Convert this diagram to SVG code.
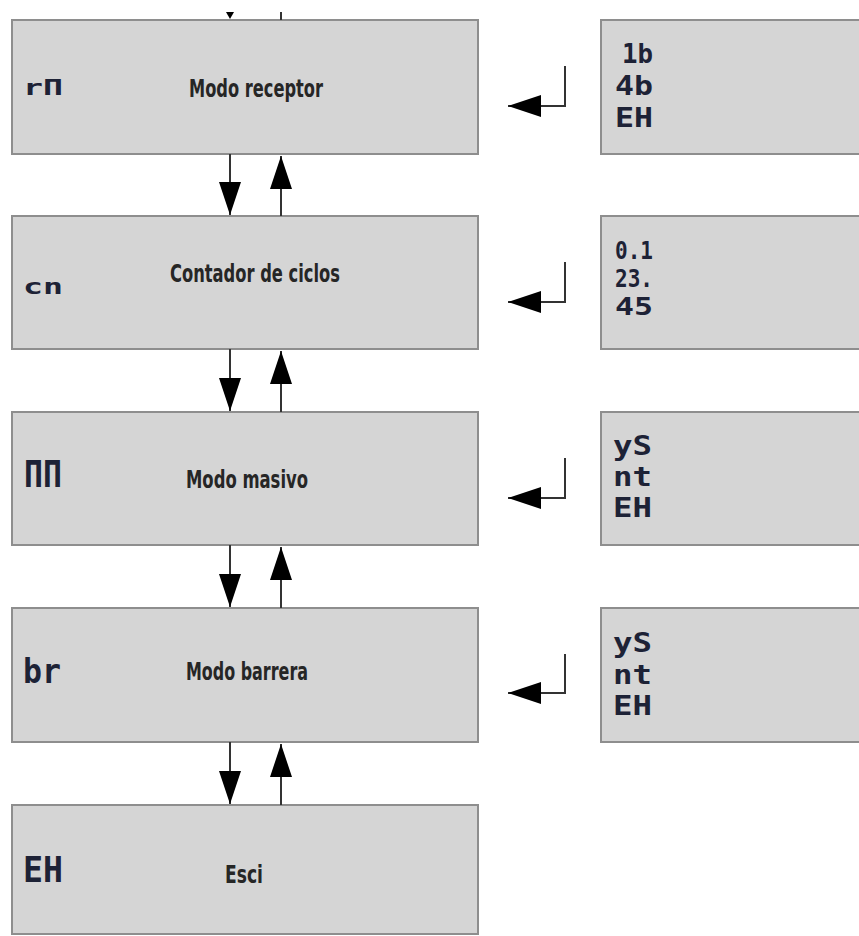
<svg xmlns="http://www.w3.org/2000/svg" width="859" height="936" viewBox="0 0 859 936">
<style>
.box{fill:#d5d5d5;stroke:#8e8e8e;stroke-width:2}
.lbl{font-family:"Liberation Sans Narrow","DejaVu Sans Condensed","Roboto",sans-serif;font-stretch:condensed;font-weight:bold;font-size:25px;fill:#262626;text-anchor:middle}
.seg{font-family:"DejaVu Sans Mono","Liberation Mono",monospace;font-weight:bold;fill:#1d2236}
.ln{stroke:#333;stroke-width:2;fill:none}
</style>
<defs>
<marker id="ah" markerUnits="userSpaceOnUse" markerWidth="33" markerHeight="22" refX="33" refY="11" orient="auto">
<path d="M0,0 L33,11 L0,22 z" fill="#000"/>
</marker>
</defs>
<rect width="859" height="936" fill="#fff"/>

<g id="node-rm">
<rect class="box" x="12" y="20" width="466" height="134"/>
<text class="seg" x="23" y="95" font-size="22" textLength="40" lengthAdjust="spacingAndGlyphs">rП</text>
<text class="lbl" x="256" y="97" textLength="134" lengthAdjust="spacingAndGlyphs">Modo receptor</text>
</g>
<g id="node-rm-opts">
<rect class="box" x="601" y="20" width="270" height="134"/>
<text class="seg" x="622" y="63" font-size="27" textLength="31" lengthAdjust="spacingAndGlyphs">1b</text>
<text class="seg" x="615" y="95" font-size="27" textLength="38" lengthAdjust="spacingAndGlyphs">4b</text>
<text class="seg" x="615" y="127" font-size="27" textLength="38" lengthAdjust="spacingAndGlyphs">EH</text>
</g>

<g id="node-cn">
<rect class="box" x="12" y="216" width="466" height="133"/>
<text class="seg" x="23" y="294" font-size="22" textLength="40" lengthAdjust="spacingAndGlyphs">cn</text>
<text class="lbl" x="255" y="282" textLength="170" lengthAdjust="spacingAndGlyphs">Contador de ciclos</text>
</g>
<g id="node-cn-opts">
<rect class="box" x="601" y="216" width="270" height="133"/>
<text class="seg" x="615" y="259" font-size="24" textLength="38" lengthAdjust="spacingAndGlyphs">0.1</text>
<text class="seg" x="615" y="287" font-size="24" textLength="38" lengthAdjust="spacingAndGlyphs">23.</text>
<text class="seg" x="615" y="315" font-size="24" textLength="38" lengthAdjust="spacingAndGlyphs">45</text>
</g>

<g id="node-mm">
<rect class="box" x="12" y="412" width="466" height="133"/>
<text class="seg" x="24" y="487" font-size="37" textLength="38" lengthAdjust="spacingAndGlyphs">ПП</text>
<text class="lbl" x="247" y="488" textLength="122" lengthAdjust="spacingAndGlyphs">Modo masivo</text>
</g>
<g id="node-mm-opts">
<rect class="box" x="601" y="412" width="270" height="133"/>
<text class="seg" x="613" y="455" font-size="26" textLength="39" lengthAdjust="spacingAndGlyphs">yS</text>
<text class="seg" x="613" y="486" font-size="26" textLength="39" lengthAdjust="spacingAndGlyphs">nt</text>
<text class="seg" x="613" y="517" font-size="26" textLength="39" lengthAdjust="spacingAndGlyphs">EH</text>
</g>

<g id="node-br">
<rect class="box" x="12" y="608" width="466" height="134"/>
<text class="seg" x="23" y="683" font-size="34" textLength="38" lengthAdjust="spacingAndGlyphs">br</text>
<text class="lbl" x="247" y="680" textLength="122" lengthAdjust="spacingAndGlyphs">Modo barrera</text>
</g>
<g id="node-br-opts">
<rect class="box" x="601" y="608" width="270" height="134"/>
<text class="seg" x="613" y="652" font-size="26" textLength="39" lengthAdjust="spacingAndGlyphs">yS</text>
<text class="seg" x="613" y="684" font-size="26" textLength="39" lengthAdjust="spacingAndGlyphs">nt</text>
<text class="seg" x="613" y="715" font-size="26" textLength="39" lengthAdjust="spacingAndGlyphs">EH</text>
</g>

<g id="node-eh">
<rect class="box" x="12" y="805" width="466" height="129"/>
<text class="seg" x="23" y="882" font-size="36" textLength="40" lengthAdjust="spacingAndGlyphs">EH</text>
<text class="lbl" x="244" y="883" textLength="38" lengthAdjust="spacingAndGlyphs">Esci</text>
</g>

<g id="connectors">
<polygon points="226,12 234,12 230,19" fill="#000"/>
<line class="ln" x1="281" y1="12" x2="281" y2="20"/>

<line class="ln" x1="230" y1="154" x2="230" y2="215" marker-end="url(#ah)"/>
<line class="ln" x1="281" y1="216" x2="281" y2="156" marker-end="url(#ah)"/>
<line class="ln" x1="230" y1="349" x2="230" y2="411" marker-end="url(#ah)"/>
<line class="ln" x1="281" y1="412" x2="281" y2="351" marker-end="url(#ah)"/>
<line class="ln" x1="230" y1="545" x2="230" y2="607" marker-end="url(#ah)"/>
<line class="ln" x1="281" y1="608" x2="281" y2="547" marker-end="url(#ah)"/>
<line class="ln" x1="230" y1="742" x2="230" y2="804" marker-end="url(#ah)"/>
<line class="ln" x1="281" y1="805" x2="281" y2="744" marker-end="url(#ah)"/>

<path class="ln" d="M565,66 V106 H508" marker-end="url(#ah)"/>
<path class="ln" d="M565,262 V302 H508" marker-end="url(#ah)"/>
<path class="ln" d="M565,458 V498 H508" marker-end="url(#ah)"/>
<path class="ln" d="M565,654 V693 H508" marker-end="url(#ah)"/>
</g>
</svg>
